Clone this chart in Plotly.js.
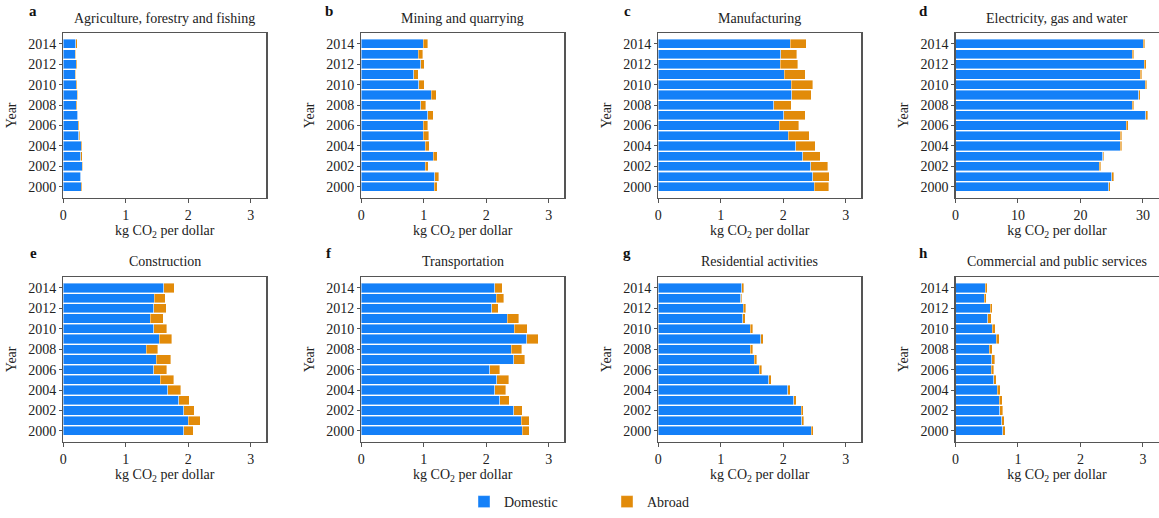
<!DOCTYPE html>
<html>
<head>
<meta charset="utf-8">
<script src="https://cdn.plot.ly/plotly-3.0.1.min.js"></script>
<style>html,body{margin:0;padding:0;background:#fff;}#chart{width:1159px;height:518px;}</style>
</head>
<body>
<div id="chart"></div>
<script>
// Years (bottom to top)
const years = [2000,2001,2002,2003,2004,2005,2006,2007,2008,2009,2010,2011,2012,2013,2014];
const yearTicks = [2000,2002,2004,2006,2008,2010,2012,2014];

const panelLetters = ["a","b","c","d","e","f","g","h"];
const sectorNames = ["Agriculture, forestry and fishing","Mining and quarrying","Manufacturing","Electricity, gas and water",
  "Construction","Transportation","Residential activities","Commercial and public services"];
const seriesNames = ["Domestic","Abroad"];

// kg CO2 per dollar, years 2000..2014
const agriDomestic = [0.29,0.28,0.30,0.28,0.29,0.25,0.24,0.23,0.21,0.22,0.21,0.19,0.21,0.19,0.20];
const agriAbroad   = [0.01,0.01,0.015,0.02,0.01,0.015,0.015,0.01,0.01,0.015,0.01,0.01,0.01,0.01,0.02];

const miningDomestic = [1.17,1.18,1.02,1.15,1.02,0.99,0.99,1.06,0.95,1.12,0.92,0.84,0.95,0.91,0.99];
const miningAbroad   = [0.05,0.06,0.05,0.07,0.07,0.09,0.07,0.09,0.08,0.08,0.09,0.07,0.06,0.07,0.07];

const manufDomestic = [2.50,2.47,2.44,2.31,2.20,2.08,1.94,2.01,1.85,2.14,2.13,2.02,1.95,1.96,2.11];
const manufAbroad   = [0.23,0.27,0.27,0.28,0.31,0.34,0.31,0.34,0.28,0.31,0.34,0.33,0.28,0.26,0.26];

const elecDomestic = [24.55,25.05,23.05,23.55,26.35,26.35,27.35,30.45,28.3,29.35,30.35,29.55,30.25,28.3,30.05];
const elecAbroad   = [0.2,0.25,0.2,0.2,0.25,0.25,0.3,0.3,0.25,0.25,0.3,0.25,0.25,0.2,0.25];

const constrDomestic = [1.93,2.00,1.93,1.85,1.67,1.55,1.45,1.49,1.33,1.54,1.45,1.39,1.45,1.46,1.61];
const constrAbroad   = [0.15,0.19,0.17,0.17,0.21,0.22,0.21,0.23,0.18,0.20,0.21,0.21,0.20,0.17,0.17];

const transDomestic = [2.58,2.56,2.44,2.22,2.14,2.17,2.06,2.44,2.40,2.65,2.45,2.34,2.09,2.16,2.14];
const transAbroad   = [0.11,0.13,0.14,0.15,0.17,0.19,0.16,0.18,0.17,0.18,0.21,0.18,0.10,0.12,0.12];

const resDomestic = [2.45,2.30,2.29,2.17,2.07,1.77,1.62,1.54,1.47,1.64,1.47,1.35,1.36,1.32,1.34];
const resAbroad   = [0.03,0.03,0.03,0.04,0.04,0.04,0.04,0.04,0.04,0.04,0.04,0.04,0.04,0.02,0.03];

const commDomestic = [0.76,0.74,0.71,0.70,0.67,0.61,0.57,0.58,0.54,0.65,0.59,0.52,0.56,0.46,0.48];
const commAbroad   = [0.04,0.04,0.045,0.05,0.05,0.04,0.04,0.05,0.05,0.05,0.05,0.05,0.03,0.03,0.03];

const domesticSeries = [agriDomestic,miningDomestic,manufDomestic,elecDomestic,constrDomestic,transDomestic,resDomestic,commDomestic];
const abroadSeries   = [agriAbroad,miningAbroad,manufAbroad,elecAbroad,constrAbroad,transAbroad,resAbroad,commAbroad];
const xMax = [3.25,3.25,3.25,32.5,3.25,3.25,3.25,3.25];
const xTickVals = [[0,1,2,3],[0,1,2,3],[0,1,2,3],[0,10,20,30],[0,1,2,3],[0,1,2,3],[0,1,2,3],[0,1,2,3]];

const W = 1159, H = 518;
const colLeft = [63.3, 361.3, 658.3, 955.5];
const plotW = 203;
const rowTop = [33.3, 278.3];
const plotH = 165;
const blue = "#1480F8";
const orange = "#E28B0A";
const FONT = "Liberation Serif, DejaVu Serif, Noto Serif, Times New Roman, serif";

const traces = [];
const layout = {
  width: W, height: H,
  margin: {l:0, r:0, t:0, b:0},
  paper_bgcolor: "#fff", plot_bgcolor: "#fff",
  barmode: "stack",
  font: {family: FONT, size: 14, color: "#222"},
  showlegend: true,
  legend: {orientation: "h", x: 464/W, xanchor: "left", y: 1 - 504/H, yanchor: "middle",
           entrywidth: 98, entrywidthmode: "pixels", font: {family: FONT, size: 14, color: "#222"},
           bgcolor: "rgba(0,0,0,0)", traceorder: "normal"},
  annotations: []
};

for (let i = 0; i < 8; i++) {
  const r = Math.floor(i / 4), c = i % 4;
  const sfx = i === 0 ? "" : String(i + 1);
  const xa = "x" + sfx, ya = "y" + sfx;
  const x0 = colLeft[c] / W, x1 = (colLeft[c] + plotW) / W;
  const yTop = 1 - rowTop[r] / H, yBot = 1 - (rowTop[r] + plotH) / H;

  traces.push({type: "bar", orientation: "h", name: seriesNames[0], y: years, x: domesticSeries[i],
    xaxis: xa, yaxis: ya, width: 0.9, marker: {color: blue, line: {color: "rgba(255,255,255,0.5)", width: 0.8}},
    showlegend: i === 0, legendgroup: "dom", hoverinfo: "x+y"});
  traces.push({type: "bar", orientation: "h", name: seriesNames[1], y: years, x: abroadSeries[i],
    xaxis: xa, yaxis: ya, width: 0.9, marker: {color: orange, line: {color: "rgba(255,255,255,0.5)", width: 0.8}},
    showlegend: i === 0, legendgroup: "abr", hoverinfo: "x+y"});

  layout["xaxis" + sfx] = {
    domain: [x0, x1], anchor: ya, range: [0, xMax[i]], tickvals: xTickVals[i],
    showline: true, mirror: true, linecolor: "#555", linewidth: 1.3, showgrid: false, zeroline: false,
    ticks: "outside", ticklen: 4, tickcolor: "#555", tickfont: {family: FONT, size: 14, color: "#222"},
    title: {text: "kg CO<sub>2</sub> per dollar", font: {family: FONT, size: 14, color: "#222"}, standoff: 3}
  };
  layout["yaxis" + sfx] = {
    domain: [yBot, yTop], anchor: xa, range: [1998.95, 2015.05], tickvals: yearTicks,
    showline: true, mirror: true, linecolor: "#555", linewidth: 1.3, showgrid: false, zeroline: false,
    ticks: "outside", ticklen: 3, tickcolor: "#555", tickfont: {family: FONT, size: 14, color: "#222"},
    title: {text: "Year", font: {family: FONT, size: 14, color: "#222"}, standoff: 8}
  };

  layout.annotations.push({text: sectorNames[i], xref: "paper", yref: "paper",
    x: (colLeft[c] + plotW / 2) / W, y: 1 - (r === 0 ? 19 : 263) / H, xanchor: "center", yanchor: "middle",
    showarrow: false, font: {family: FONT, size: 14, color: "#222"}});
  layout.annotations.push({text: "<b>" + panelLetters[i] + "</b>", xref: "paper", yref: "paper",
    x: ([33, 329, 627, 923][c]) / W, y: 1 - (r === 0 ? 11 : 254) / H, xanchor: "center", yanchor: "middle",
    showarrow: false, font: {family: FONT, size: 15, color: "#111"}});
}

Plotly.newPlot("chart", traces, layout, {displayModeBar: false, staticPlot: true});
</script>
</body>
</html>
